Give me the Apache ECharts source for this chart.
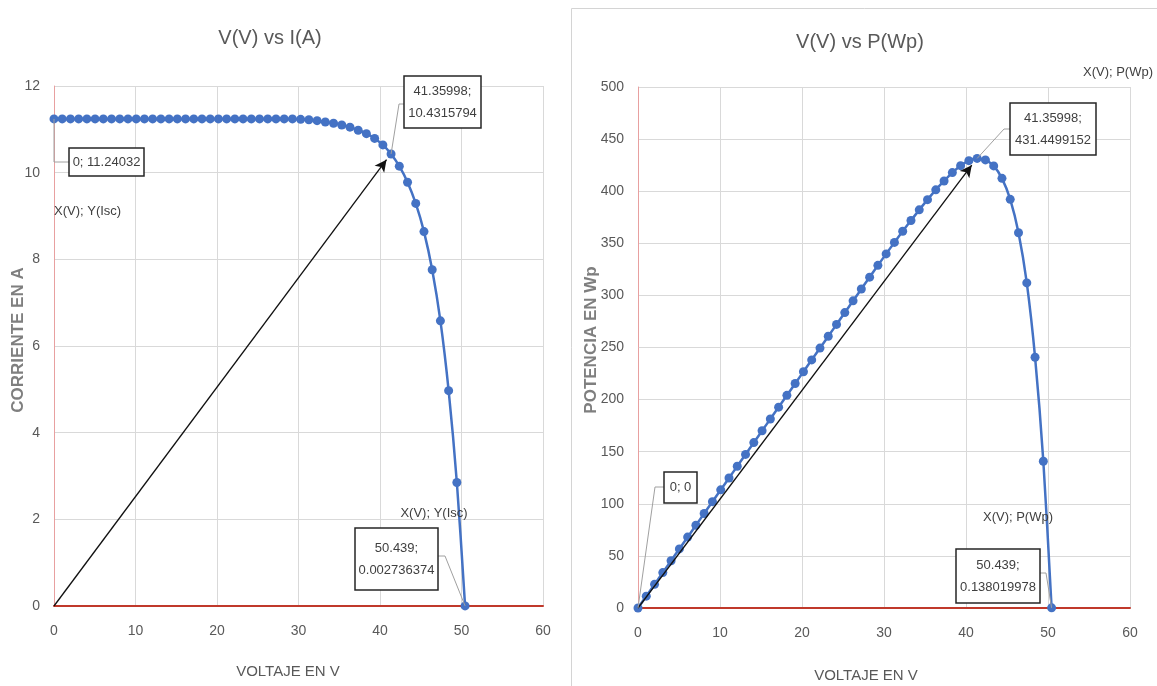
<!DOCTYPE html>
<html>
<head>
<meta charset="utf-8">
<script src="https://cdn.jsdelivr.net/npm/echarts@6/dist/echarts.min.js"></script>
<style>
  html, body { margin: 0; padding: 0; background: #fff; }
  #main { width: 1157px; height: 686px; }
</style>
</head>
<body>
<div id="main"></div>
<script>
// voltaje (V), corriente (A) y potencia (Wp)
var voltage = [0, 1.009, 2.018, 3.026, 4.035, 5.044, 6.053, 7.061, 8.070, 9.079,
  10.088, 11.097, 12.105, 13.114, 14.123, 15.132, 16.140, 17.149, 18.158, 19.167,
  20.176, 21.184, 22.193, 23.202, 24.211, 25.220, 26.228, 27.237, 28.246, 29.255,
  30.263, 31.272, 32.281, 33.290, 34.299, 35.307, 36.316, 37.325, 38.334, 39.342,
  40.351, 41.35998, 42.369, 43.378, 44.386, 45.395, 46.404, 47.413, 48.422, 49.430,
  50.439];
var current = [11.24032, 11.24, 11.24, 11.24, 11.24, 11.24, 11.24, 11.24, 11.24, 11.24,
  11.24, 11.24, 11.24, 11.24, 11.24, 11.24, 11.24, 11.24, 11.24, 11.24,
  11.24, 11.24, 11.24, 11.24, 11.24, 11.24, 11.24, 11.24, 11.24, 11.24,
  11.23, 11.22, 11.20, 11.17, 11.14, 11.10, 11.05, 10.98, 10.90, 10.79,
  10.64, 10.4315794, 10.15, 9.78, 9.29, 8.64, 7.76, 6.58, 4.97, 2.85,
  0.002736374];
var power = [0, 11.34, 22.68, 34.01, 45.35, 56.69, 68.04, 79.37, 90.71, 102.05,
  113.39, 124.73, 136.06, 147.40, 158.74, 170.08, 181.41, 192.75, 204.10, 215.44,
  226.78, 238.11, 249.45, 260.79, 272.13, 283.47, 294.80, 306.14, 317.49, 328.83,
  339.85, 350.87, 361.55, 371.85, 382.09, 391.91, 401.29, 409.83, 417.84, 424.50,
  429.33, 431.4499152, 430.05, 424.24, 412.35, 392.21, 360.09, 311.98, 240.66, 140.88,
  0.138019978];

// puntas de las flechas negras
var ivArrowEnd = [40.8, 10.3];
var pvArrowEnd = [40.7, 425];

var FONT = "'Liberation Sans', Arial, sans-serif";
var BLUE = '#4472C4';
var GRID_GRAY = '#D9D9D9';
var TEXT_GRAY = '#595959';

var ivData = voltage.map(function (v, i) { return [v, current[i]]; });
var pvData = voltage.map(function (v, i) { return [v, power[i]]; });

function xAxisCfg(idx) {
  return {
    type: 'value', gridIndex: idx, min: 0, max: 60, interval: 10,
    axisLine: { show: true, onZero: true, lineStyle: { color: '#C0392B', width: 2 } },
    axisTick: { show: false },
    axisLabel: { color: TEXT_GRAY, fontSize: 14, fontFamily: FONT, margin: 18 },
    splitLine: { show: true, lineStyle: { color: GRID_GRAY, width: 1 } }
  };
}
function yAxisCfg(idx, max, interval) {
  return {
    type: 'value', gridIndex: idx, min: 0, max: max, interval: interval,
    axisLine: { show: true, lineStyle: { color: '#E8A0A0', width: 1 } },
    axisTick: { show: false },
    axisLabel: { color: TEXT_GRAY, fontSize: 14, fontFamily: FONT, margin: 14 },
    splitLine: { show: true, lineStyle: { color: GRID_GRAY, width: 1 } }
  };
}
function arrowLine(end) {
  return {
    silent: true,
    symbol: ['none', 'arrow'],
    symbolSize: [9, 12],
    lineStyle: { color: '#111', type: 'solid', width: 1.3 },
    label: { show: false },
    emphasis: { disabled: true },
    data: [[{ coord: [0, 0] }, { coord: end }]]
  };
}
function curve(idx, data, end) {
  return {
    type: 'line', xAxisIndex: idx, yAxisIndex: idx,
    data: data,
    smooth: 0.3,
    symbol: 'circle', symbolSize: 9,
    itemStyle: { color: BLUE },
    lineStyle: { color: BLUE, width: 2.5 },
    markLine: arrowLine(end),
    z: 3
  };
}

var chart = echarts.init(document.getElementById('main'));
chart.setOption({
  animation: false,
  backgroundColor: '#fff',
  grid: [
    { left: 54, top: 86, width: 489, height: 520 },
    { left: 638, top: 87, width: 492, height: 521 }
  ],
  xAxis: [xAxisCfg(0), xAxisCfg(1)],
  yAxis: [yAxisCfg(0, 12, 2), yAxisCfg(1, 500, 50)],
  series: [curve(0, ivData, ivArrowEnd), curve(1, pvData, pvArrowEnd)]
});

// textos, cajas de etiquetas y lineas guia
function px(grid, pt) { return chart.convertToPixel({ gridIndex: grid }, pt); }

function label(text, x, y, opts) {
  opts = opts || {};
  return {
    type: 'text', x: x, y: y, rotation: opts.rotation || 0, z: 20,
    style: {
      text: text, x: 0, y: 0,
      fill: opts.color || TEXT_GRAY,
      font: (opts.weight || 'normal') + ' ' + (opts.size || 13) + 'px ' + FONT,
      align: opts.align || 'center', verticalAlign: 'middle'
    }
  };
}
function box(text, x, y, w, h) {
  return [
    { type: 'rect', z: 20, shape: { x: x, y: y, width: w, height: h },
      style: { fill: '#fff', stroke: '#262626', lineWidth: 1.5 } },
    { type: 'text', z: 21, x: x + w / 2, y: y + h / 2,
      style: { text: text, fill: '#404040', font: '13px ' + FONT,
        align: 'center', verticalAlign: 'middle', lineHeight: 22 } }
  ];
}
function leader(points) {
  return { type: 'polyline', z: 19, shape: { points: points },
    style: { stroke: '#A0A0A0', lineWidth: 1, fill: null } };
}

var pI0 = px(0, [voltage[0], current[0]]);
var pImp = px(0, [voltage[41], current[41]]);
var pIoc = px(0, [voltage[50], current[50]]);
var pP0 = px(1, [voltage[0], power[0]]);
var pPmp = px(1, [voltage[41], power[41]]);
var pPoc = px(1, [voltage[50], power[50]]);

var g = [
  { type: 'rect', z: 0, silent: true, shape: { x: 571.5, y: 8.5, width: 600, height: 700 },
    style: { fill: 'none', stroke: '#D4D4D4', lineWidth: 1 } },
  label('V(V) vs I(A)', 270, 38, { size: 20 }),
  label('V(V) vs P(Wp)', 860, 42, { size: 20 }),
  label('VOLTAJE EN V', 288, 672, { size: 15 }),
  label('VOLTAJE EN V', 866, 676, { size: 15 }),
  label('CORRIENTE EN A', 18, 340, { size: 17, weight: 'bold', color: '#7F7F7F', rotation: Math.PI / 2 }),
  label('POTENCIA EN Wp', 591, 340, { size: 17, weight: 'bold', color: '#7F7F7F', rotation: Math.PI / 2 }),
  label('X(V); Y(Isc)', 54, 211, { align: 'left', color: '#404040' }),
  label('X(V); Y(Isc)', 434, 513, { color: '#404040' }),
  label('X(V); P(Wp)', 1118, 72, { color: '#404040' }),
  label('X(V); P(Wp)', 1018, 517, { color: '#404040' }),
  leader([pI0, [pI0[0], 162], [69, 162]]),
  leader([pImp, [399, 104], [404, 104]]),
  leader([[438, 556], [445, 556], pIoc]),
  leader([pPmp, [1004, 129], [1010, 129]]),
  leader([pP0, [655, 487], [664, 487]]),
  leader([[1040, 573], [1046, 573], pPoc])
];
g = g.concat(
  box('0; 11.24032', 69, 148, 75, 28),
  box('41.35998;\n10.4315794', 404, 76, 77, 52),
  box('50.439;\n0.002736374', 355, 528, 83, 62),
  box('41.35998;\n431.4499152', 1010, 103, 86, 52),
  box('0; 0', 664, 472, 33, 31),
  box('50.439;\n0.138019978', 956, 549, 84, 54)
);
chart.setOption({ graphic: g });
</script>
</body>
</html>
